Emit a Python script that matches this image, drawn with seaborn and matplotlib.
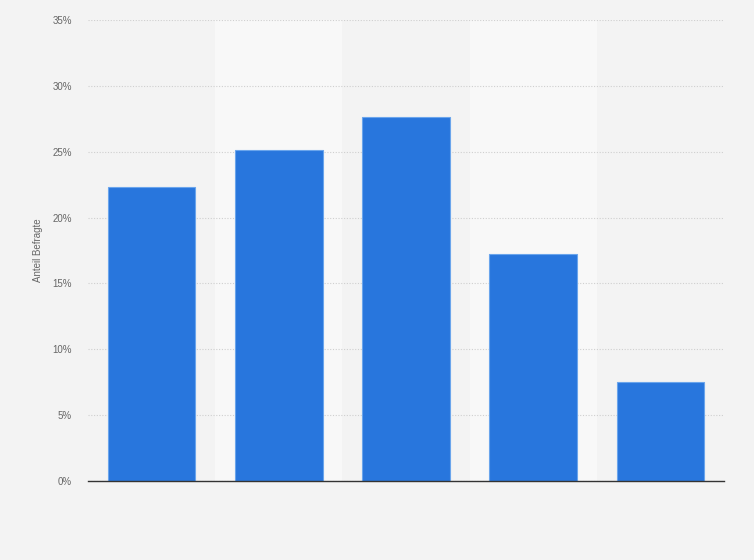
import matplotlib
matplotlib.use("Agg")
import matplotlib.pyplot as plt
import seaborn as sns
import pandas as pd
from matplotlib.ticker import FuncFormatter, MultipleLocator

# Werte (Anteil Befragte in %)
kategorien = ["A", "B", "C", "D", "E"]
anteile = [22.3, 25.1, 27.6, 17.2, 7.5]

df = pd.DataFrame({"kategorie": kategorien, "anteil": anteile})

sns.set_style("white")
plt.rcParams["font.family"] = ["Liberation Sans", "DejaVu Sans"]

fig = plt.figure(figsize=(7.54, 5.6), dpi=100)
fig.patch.set_facecolor("#f3f3f3")
ax = fig.add_axes([88 / 754, 1 - 481 / 560, 636 / 754, 461 / 560])
ax.set_facecolor("#f3f3f3")

# hellere Streifen hinter jeder zweiten Kategorie
for i in range(len(kategorien)):
    if i % 2 == 1:
        ax.axvspan(i - 0.5, i + 0.5, color="#f8f8f8", zorder=0, lw=0)

sns.barplot(data=df, x="kategorie", y="anteil", color="#2876dd", width=0.69,
            saturation=1, edgecolor="#6aa5ec", linewidth=0.8, ax=ax, zorder=3)

ax.set_xlim(-0.5, len(kategorien) - 0.5)
ax.set_ylim(0, 35)
ax.yaxis.set_major_locator(MultipleLocator(5))
ax.yaxis.set_major_formatter(FuncFormatter(lambda v, p: f"{v:.0f}%"))
ax.grid(axis="y", color="#cfcfcf", linestyle=(0, (1, 1.5)), linewidth=0.8, zorder=1)
ax.set_axisbelow(True)

for s in ["top", "right", "left"]:
    ax.spines[s].set_visible(False)
ax.spines["bottom"].set_color("#333333")
ax.spines["bottom"].set_linewidth(1.0)
ax.spines["bottom"].set_zorder(5)

ax.set_xticks([])
ax.set_xlabel("")
ax.tick_params(axis="y", length=0, pad=11.5, labelsize=7, labelcolor="#666666")
ax.set_ylabel("Anteil Befragte", fontsize=7, color="#666666", labelpad=7)

fig.savefig("out.png", dpi=100, facecolor=fig.get_facecolor())
